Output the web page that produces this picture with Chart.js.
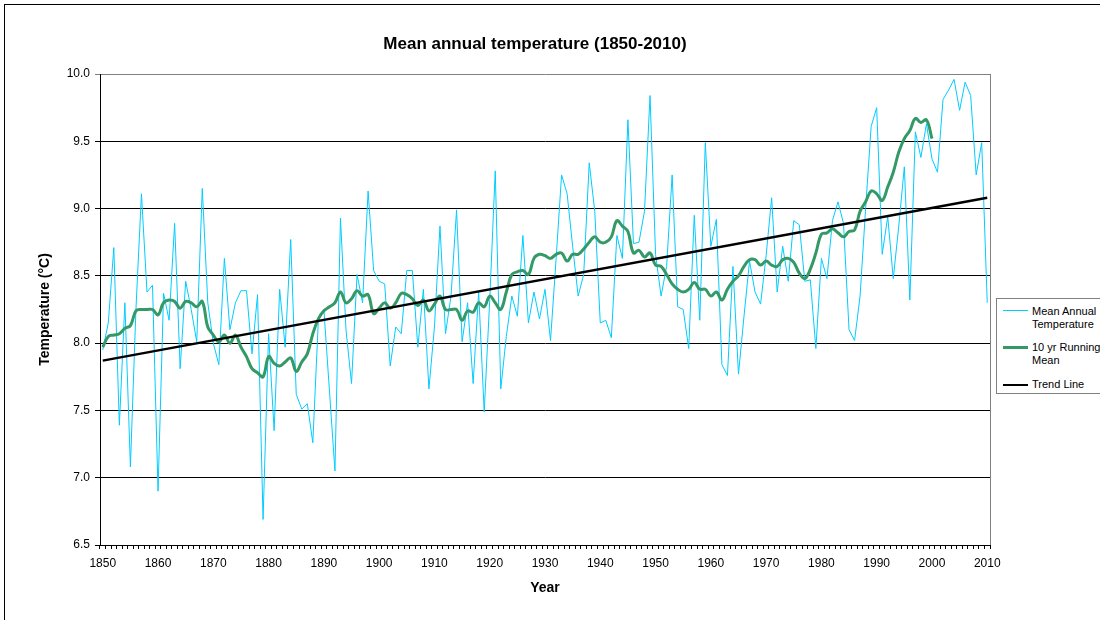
<!DOCTYPE html>
<html>
<head>
<meta charset="utf-8">
<script src="https://cdn.jsdelivr.net/npm/chart.js@4.4.1/dist/chart.umd.min.js"></script>
<style>
html, body { margin: 0; padding: 0; background: #fff; overflow: hidden; }
#wrap { position: relative; width: 1100px; height: 620px; overflow: hidden; }
#frame { position: absolute; left: 4px; top: 4px; width: 1300px; height: 800px; border-left: 1px solid #000; border-top: 1px solid #000; }
#c { position: absolute; left: 0; top: 0; }
#legend { position: absolute; left: 996px; top: 298px; width: 140px; height: 94px; border: 1px solid #808080; background: #fff;
  font: 11px "Liberation Sans", Arial, sans-serif; color: #000; }
.sw { position: absolute; left: 6px; width: 25px; }
.tx { position: absolute; left: 35px; line-height: 13px; white-space: nowrap; }
</style>
</head>
<body>
<div id="wrap">
  <div id="frame"></div>
  <canvas id="c" width="1100" height="620"></canvas>
  <div id="legend">
    <div class="sw" style="top:11px;height:1px;background:#00CCFF;"></div>
    <div class="tx" style="top:6px;">Mean Annual<br>Temperature</div>
    <div class="sw" style="top:47px;height:3px;background:#339966;"></div>
    <div class="tx" style="top:42px;">10 yr Running<br>Mean</div>
    <div class="sw" style="top:85px;height:2px;background:#000;"></div>
    <div class="tx" style="top:79px;">Trend Line</div>
  </div>
</div>
<script>
const chartTitle = 'Mean annual temperature (1850-2010)';
const xTitle = 'Year';
const yTitle = 'Temperature (°C)';

const years = [
  1850,1851,1852,1853,1854,1855,1856,1857,1858,1859,
  1860,1861,1862,1863,1864,1865,1866,1867,1868,1869,
  1870,1871,1872,1873,1874,1875,1876,1877,1878,1879,
  1880,1881,1882,1883,1884,1885,1886,1887,1888,1889,
  1890,1891,1892,1893,1894,1895,1896,1897,1898,1899,
  1900,1901,1902,1903,1904,1905,1906,1907,1908,1909,
  1910,1911,1912,1913,1914,1915,1916,1917,1918,1919,
  1920,1921,1922,1923,1924,1925,1926,1927,1928,1929,
  1930,1931,1932,1933,1934,1935,1936,1937,1938,1939,
  1940,1941,1942,1943,1944,1945,1946,1947,1948,1949,
  1950,1951,1952,1953,1954,1955,1956,1957,1958,1959,
  1960,1961,1962,1963,1964,1965,1966,1967,1968,1969,
  1970,1971,1972,1973,1974,1975,1976,1977,1978,1979,
  1980,1981,1982,1983,1984,1985,1986,1987,1988,1989,
  1990,1991,1992,1993,1994,1995,1996,1997,1998,1999,
  2000,2001,2002,2003,2004,2005,2006,2007,2008,2009,
  2010
];

const xTickLabels = ['1850','1860','1870','1880','1890','1900','1910','1920','1930','1940','1950','1960','1970','1980','1990','2000','2010'];
const yTicks = [6.5, 7.0, 7.5, 8.0, 8.5, 9.0, 9.5, 10.0];

const meanAnnualTemp = [
  7.95, 8.15, 8.71, 7.39, 8.30, 7.08, 8.25, 9.11, 8.38, 8.43,
  6.90, 8.37, 8.17, 8.89, 7.81, 8.46, 8.25, 8.01, 9.15, 8.30,
  8.00, 7.84, 8.63, 8.10, 8.30, 8.39, 8.39, 7.92, 8.36, 6.69,
  8.07, 7.35, 8.40, 7.97, 8.77, 7.62, 7.51, 7.55, 7.26, 8.17,
  8.25, 7.65, 7.05, 8.93, 8.10, 7.70, 8.51, 8.30, 9.13, 8.54,
  8.46, 8.44, 7.83, 8.12, 8.07, 8.54, 8.54, 7.97, 8.40, 7.66,
  8.12, 8.87, 8.07, 8.35, 8.99, 8.01, 8.30, 7.70, 8.38, 7.49,
  8.32, 9.28, 7.66, 8.05, 8.35, 8.20, 8.80, 8.15, 8.38, 8.18,
  8.40, 8.02, 8.62, 9.25, 9.11, 8.72, 8.35, 8.51, 9.34, 8.98,
  8.15, 8.17, 8.04, 8.80, 8.63, 9.66, 8.74, 8.75, 8.98, 9.84,
  8.66, 8.35, 8.57, 9.25, 8.27, 8.25, 7.96, 8.95, 8.17, 9.49,
  8.72, 8.92, 7.84, 7.76, 8.57, 7.77, 8.20, 8.61, 8.38, 8.29,
  8.65, 9.08, 8.38, 8.72, 8.46, 8.91, 8.88, 8.46, 8.47, 7.96,
  8.63, 8.48, 8.91, 9.05, 8.89, 8.10, 8.02, 8.35, 9.00, 9.61,
  9.75, 8.66, 8.94, 8.48, 8.87, 9.31, 8.32, 9.57, 9.38, 9.63,
  9.37, 9.27, 9.81, 9.88, 9.96, 9.73, 9.94, 9.84, 9.25, 9.49,
  8.30
];

const runningMean10yr = [
  7.97, 8.05, 8.06, 8.07, 8.11, 8.13, 8.24, 8.25, 8.25, 8.25,
  8.21, 8.30, 8.32, 8.31, 8.26, 8.31, 8.30, 8.27, 8.31, 8.12,
  8.06, 8.01, 8.06, 8.00, 8.06, 7.97, 7.90, 7.81, 7.78, 7.75,
  7.90, 7.85, 7.83, 7.86, 7.89, 7.79, 7.86, 7.92, 8.07, 8.18,
  8.24, 8.27, 8.30, 8.38, 8.30, 8.33, 8.39, 8.35, 8.36, 8.22,
  8.26, 8.30, 8.26, 8.30, 8.37, 8.36, 8.33, 8.28, 8.32, 8.24,
  8.29, 8.35, 8.25, 8.25, 8.25, 8.17, 8.24, 8.23, 8.30, 8.27,
  8.35, 8.30, 8.25, 8.38, 8.51, 8.53, 8.54, 8.51, 8.63, 8.66,
  8.65, 8.63, 8.66, 8.67, 8.61, 8.66, 8.66, 8.70, 8.75, 8.79,
  8.75, 8.75, 8.79, 8.91, 8.87, 8.83, 8.67, 8.69, 8.64, 8.67,
  8.58, 8.57, 8.51, 8.44, 8.40, 8.38, 8.40, 8.45, 8.40, 8.40,
  8.35, 8.38, 8.32, 8.40, 8.46, 8.50, 8.57, 8.62, 8.62, 8.58,
  8.61, 8.58, 8.57, 8.62, 8.63, 8.60, 8.52, 8.48, 8.55, 8.67,
  8.81, 8.82, 8.85, 8.82, 8.79, 8.83, 8.84, 8.98, 9.05, 9.13,
  9.11, 9.06, 9.16, 9.27, 9.42, 9.52, 9.58, 9.67, 9.64, 9.66,
  9.52, null, null, null, null, null, null, null, null, null,
  null
];

const trendYears = ['1850', '2010'];
const trendValues = [7.87, 9.08];

const FONT = '"Liberation Sans", Arial, Helvetica, sans-serif';
const labels = years.map(String);

const frameAndTitle = {
  id: 'frameAndTitle',
  afterDraw(chart) {
    const { ctx, chartArea: a } = chart;
    ctx.save();
    ctx.strokeStyle = '#808080';
    ctx.lineWidth = 1;
    ctx.beginPath();
    ctx.moveTo(Math.round(a.right) + 0.5, a.top);
    ctx.lineTo(Math.round(a.right) + 0.5, a.bottom);
    ctx.stroke();
    ctx.font = 'bold 17px ' + FONT;
    ctx.fillStyle = '#000';
    ctx.textAlign = 'center';
    ctx.textBaseline = 'middle';
    ctx.fillText(chartTitle, 535, 44);
    ctx.restore();
  }
};

new Chart(document.getElementById('c'), {
  type: 'line',
  data: {
    labels: labels,
    datasets: [
      {
        label: 'Trend Line',
        data: trendYears.map((y, i) => ({ x: y, y: trendValues[i] })),
        borderColor: '#000000',
        borderWidth: 2.5,
        pointRadius: 0,
        tension: 0,
        fill: false,
        order: 1
      },
      {
        label: '10 yr Running Mean',
        data: runningMean10yr,
        borderColor: '#339966',
        borderWidth: 3,
        pointRadius: 0,
        tension: 0.4,
        fill: false,
        order: 2
      },
      {
        label: 'Mean Annual Temperature',
        data: meanAnnualTemp,
        borderColor: '#00CCFF',
        borderWidth: 1,
        pointRadius: 0,
        tension: 0,
        fill: false,
        order: 3
      }
    ]
  },
  options: {
    responsive: false,
    animation: false,
    events: [],
    layout: { padding: { left: 0, right: 110, top: 74, bottom: 0 } },
    plugins: {
      legend: { display: false },
      title: { display: false },
      tooltip: { enabled: false }
    },
    scales: {
      x: {
        type: 'category',
        offset: true,
        grid: { display: true, drawOnChartArea: false, drawTicks: true, tickLength: 4, color: '#000', offset: true, lineWidth: 1 },
        border: { display: true, color: '#000', width: 1 },
        ticks: {
          autoSkip: false, maxRotation: 0, minRotation: 0, padding: 7, color: '#000',
          font: { family: FONT, size: 12 },
          callback: function (v) {
            const l = this.getLabelForValue(v);
            return xTickLabels.includes(l) ? l : '';
          }
        },
        title: { display: true, text: xTitle, color: '#000', font: { family: FONT, size: 14, weight: 'bold' }, padding: { top: 0, bottom: 23 } },
        afterFit: (s) => { s.height = 75; }
      },
      y: {
        min: 6.5,
        max: 10,
        afterBuildTicks: (s) => { s.ticks = yTicks.map(v => ({ value: v })); },
        ticks: {
          padding: 5, color: '#000', font: { family: FONT, size: 12 },
          callback: (v) => Number(v).toFixed(1)
        },
        grid: {
          color: (c) => (c.tick && c.tick.value === 10 ? '#808080' : '#000'),
          tickLength: 5, lineWidth: 1
        },
        border: { display: true, color: '#000', width: 1 },
        title: { display: true, text: yTitle, color: '#000', font: { family: FONT, size: 14, weight: 'bold' }, padding: { top: 37, bottom: 0 } },
        afterFit: (s) => { s.width = 100; }
      }
    }
  },
  plugins: [frameAndTitle]
});
</script>
</body>
</html>
